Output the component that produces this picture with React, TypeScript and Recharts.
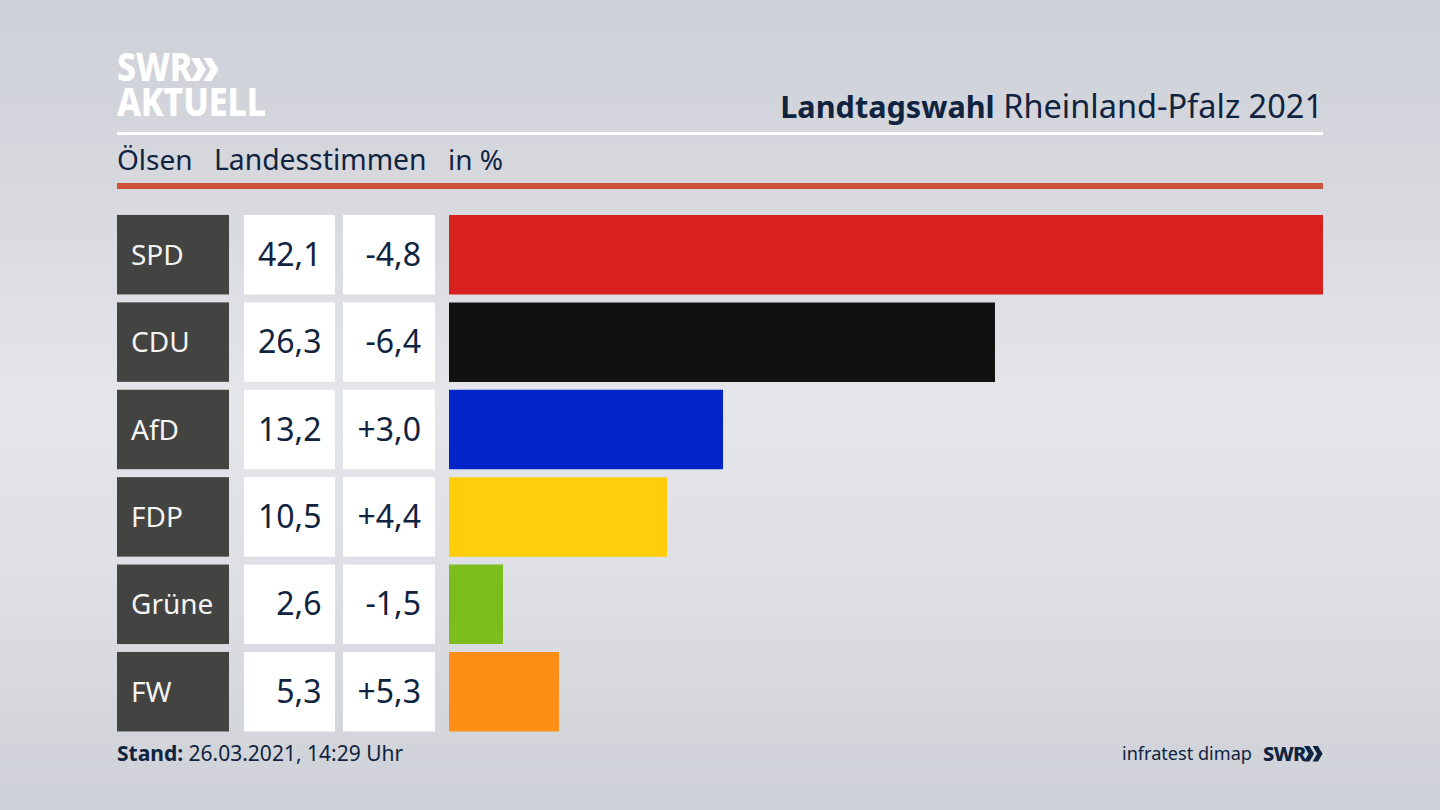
import React from "react";
import { BarChart, Bar, XAxis, YAxis, Cell } from "recharts";

const parties = ["SPD", "CDU", "AfD", "FDP", "Grüne", "FW"];
const shares = [42.1, 26.3, 13.2, 10.5, 2.6, 5.3];
const changes = ["-4,8", "-6,4", "+3,0", "+4,4", "-1,5", "+5,3"];
const colors = ["#d8201f", "#111111", "#0224c8", "#ffcd0a", "#7abd1c", "#ff8e16"];

const rows = parties.map((party, i) => ({ party, share: shares[i] }));

const NAVY = "#10233f";
const FONT = "'Noto Sans', sans-serif";
const fmt = (v: number) => v.toFixed(1).replace(".", ",");
const BAR_H = 79.5;

function RowTick(props: any) {
  const { y, payload } = props;
  const i = parties.indexOf(payload.value);
  const top = y - BAR_H / 2;
  return (
    <g style={{ fontFamily: FONT }}>
      <rect x={117} y={top} width={112} height={BAR_H} fill="#434341" />
      <rect x={244} y={top} width={91} height={BAR_H} fill="#ffffff" />
      <rect x={343} y={top} width={92} height={BAR_H} fill="#ffffff" />
      <text x={131} y={y + 10} fontSize={28} fill="#f4f4f4">{parties[i]}</text>
      <text x={321.5} y={y + 11} fontSize={32} fill={NAVY} textAnchor="end">{fmt(shares[i])}</text>
      <text x={421} y={y + 11} fontSize={32} fill={NAVY} textAnchor="end">{changes[i]}</text>
    </g>
  );
}

const abs = (left: number, top: number, extra: React.CSSProperties = {}): React.CSSProperties => ({
  position: "absolute", left, top, whiteSpace: "nowrap", fontFamily: FONT, color: NAVY, lineHeight: 1, ...extra,
});

function Chevrons({ left, top, size, color }: { left: number; top: number; size: number; color: string }) {
  return (
    <svg style={{ position: "absolute", left, top }} width={size * 1.25} height={size} viewBox="0 0 25 20">
      <polygon points="0,0 7,0 13,10 7,20 0,20 6,10" fill={color} />
      <polygon points="11,0 18,0 24,10 18,20 11,20 17,10" fill={color} />
    </svg>
  );
}

export default function App() {
  return (
    <div style={{
      position: "absolute", left: 0, top: 0, width: 1440, height: 810, overflow: "hidden",
      background: "linear-gradient(180deg,#cdd0d7 0%,#d6d8de 22%,#e5e6ea 50%,#dcdee3 75%,#cdd0d6 100%)",
    }}>
      <div style={abs(117, 50, { width: 170, whiteSpace: "normal", fontSize: 34, fontWeight: 800, color: "#fff", letterSpacing: -0.2, lineHeight: "29.6px", transform: "scaleY(1.15)", transformOrigin: "top left" })}>
        SWR AKTUELL
      </div>
      <Chevrons left={191} top={58} size={23} color="#fff" />

      <div style={abs(1323, 90, { transform: "translateX(-100%)", fontSize: 32.5 })}>
        <span style={{ fontWeight: 700, fontSize: 30.6 }}>Landtagswahl</span> Rheinland-Pfalz 2021
      </div>
      <div style={{ position: "absolute", left: 117, top: 132, width: 1206, height: 3, background: "#fff" }} />

      <div style={abs(117, 145, { fontSize: 28 })}>Ölsen</div>
      <div style={abs(214, 145, { fontSize: 28.3 })}>Landesstimmen</div>
      <div style={abs(448, 145, { fontSize: 28 })}>in %</div>
      <div style={{ position: "absolute", left: 117, top: 183, width: 1206, height: 6, background: "#cd5038" }} />

      <div style={{ position: "absolute", left: 0, top: 0 }}>
        <BarChart
          width={1440}
          height={810}
          layout="vertical"
          data={rows}
          barCategoryGap={0}
          margin={{ top: 211, right: 117, bottom: 74.6, left: 0 }}
        >
          <XAxis type="number" hide domain={[0, 42.1]} allowDataOverflow />
          <YAxis
            type="category"
            dataKey="party"
            width={449}
            interval={0}
            axisLine={false}
            tickLine={false}
            tick={<RowTick />}
          />
          <Bar dataKey="share" barSize={BAR_H} isAnimationActive={false}>
            {rows.map((r, i) => <Cell key={r.party} fill={colors[i]} />)}
          </Bar>
        </BarChart>
      </div>

      <div style={abs(117, 743, { fontSize: 21 })}>
        <span style={{ fontWeight: 700 }}>Stand:</span> 26.03.2021, 14:29 Uhr
      </div>
      <div style={abs(1122, 744, { fontSize: 18.1 })}>infratest dimap</div>
      <div style={abs(1263, 744, { fontSize: 20, fontWeight: 800, letterSpacing: -0.6 })}>SWR</div>
      <Chevrons left={1304} top={746} size={15.5} color={NAVY} />
    </div>
  );
}
